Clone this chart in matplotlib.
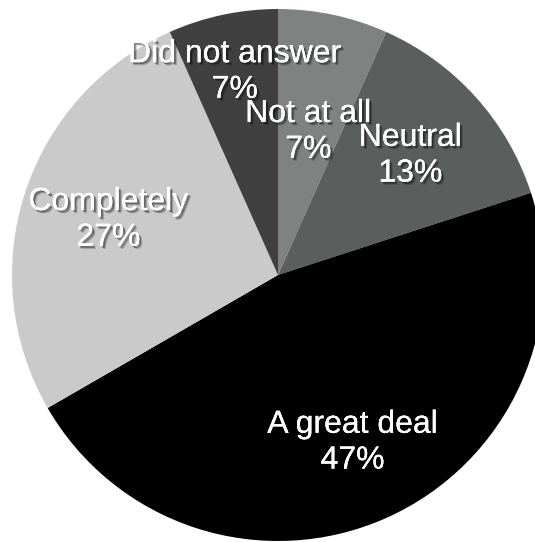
import numpy as np
import matplotlib
matplotlib.use("Agg")
import matplotlib.pyplot as plt
import matplotlib.patheffects as pe

# survey answers (15 responses), clockwise from 12 o'clock
answers = ["Not at all", "Neutral", "A great deal", "Completely", "Did not answer"]
counts = [1, 2, 7, 4, 1]
colors = ["#7e8381", "#5a5e5c", "#000000", "#cacaca", "#404040"]

# how far out each label sits (fraction of the radius)
label_dist = [0.55, 0.67, 0.69, 0.67, 0.78]

plt.rcParams["font.family"] = ["Liberation Sans", "DejaVu Sans"]

fig = plt.figure(figsize=(5.35, 5.42), dpi=100)
# pie centre at (278, 275) px from the top-left, radius 266 px
ax = fig.add_axes([12 / 535, 1 / 542, 532 / 535, 532 / 542])

wedges, _ = ax.pie(counts, colors=colors, startangle=90, counterclock=False,
                   radius=1, wedgeprops=dict(linewidth=0))

shadow = [
    pe.withSimplePatchShadow(offset=(2.2, -2.2), shadow_rgbFace="black", alpha=0.22),
    pe.withSimplePatchShadow(offset=(1.4, -1.4), shadow_rgbFace="black", alpha=0.35),
    pe.Normal(),
]

total = sum(counts)
for w, name, n, d in zip(wedges, answers, counts, label_dist):
    mid = np.deg2rad((w.theta1 + w.theta2) / 2)
    x, y = d * np.cos(mid), d * np.sin(mid)
    ax.text(x, y, f"{name}\n{100 * n / total:.0f}%", ha="center", va="center",
            color="white", fontsize=23, linespacing=1.25, path_effects=shadow)

ax.set_xlim(-1, 1)
ax.set_ylim(-1, 1)
ax.set_aspect("equal")
ax.axis("off")

fig.savefig("out.png", dpi=100)
